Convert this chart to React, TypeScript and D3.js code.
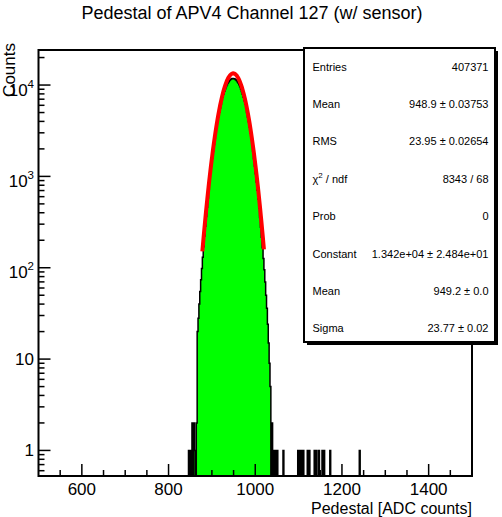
import React, { useEffect, useRef } from 'react';
import * as d3 from 'd3';

const title = 'Pedestal of APV4 Channel 127 (w/ sensor)';
const xTitle = 'Pedestal [ADC counts]';
const yTitle = 'Counts';

const binWidth = 2;
const xRange = [500, 1500];
const yRange = [0.525, 24190];

// bin contents, 2 ADC counts per bin, first bin starts at coreStart
const coreStart = 846;
const coreCounts = [
  1, 0, 1, 0, 2, 0, 2, 1, 0, 2,
  20, 28, 40, 55, 74, 98, 130, 170, 222, 285,
  365, 460, 580, 720, 890, 1090, 1320, 1590, 1900, 2240,
  2620, 3040, 3500, 3990, 4510, 5050, 5610, 6190, 6780, 7370,
  7960, 8540, 9090, 9610, 10090, 10520, 10900, 11220, 11470, 11650,
  11760, 11800, 11740, 11630, 11450, 11190, 10880, 10500, 10060, 9590,
  9070, 8510, 7930, 7340, 6750, 6160, 5580, 5020, 4480, 3960,
  3470, 3010, 2590, 2210, 1870, 1560, 1300, 1070, 870, 705,
  565, 450, 355, 278, 215, 165, 126, 95, 70, 50,
  36, 24, 15, 9, 5, 0, 2, 0, 1, 0,
  1, 0, 1,
];
// single entries far out in the tail (bin low edges)
const tailBins = [1064, 1098, 1102, 1106, 1110, 1120, 1124, 1136, 1140, 1146, 1154, 1158, 1172, 1240];

// gaussian fit
const fitConstant = 13420;
const fitMean = 949.2;
const fitSigma = 23.77;
const fitRange = [878, 1020];

const statLabels = ['Entries', 'Mean', 'RMS', 'χ2 / ndf', 'Prob', 'Constant', 'Mean', 'Sigma'];
const statValues = ['407371', '948.9 ± 0.03753', '23.95 ± 0.02654', '8343 / 68', '0', '1.342e+04 ± 2.484e+01', '949.2 ± 0.0', '23.77 ± 0.02'];

const xMajor = [600, 800, 1000, 1200, 1400];
const yMajor = [1, 10, 100, 1000, 10000];

const width = 502;
const height = 517;
const frameLeft = 38.5;
const frameRight = 472;
const frameTop = 50;
const frameBottom = 476;
const font = '"Liberation Sans", Arial, sans-serif';

function App() {
  const ref = useRef(null);

  useEffect(() => {
    const svg = d3.select(ref.current);
    svg.selectAll('*').remove();

    const x = d3.scaleLinear().domain(xRange).range([frameLeft, frameRight]);
    const y = d3.scaleLog().domain(yRange).range([frameBottom, frameTop]).clamp(true);

    // all bins of the histogram
    const nBins = (xRange[1] - xRange[0]) / binWidth;
    const counts = new Array(nBins).fill(0);
    coreCounts.forEach((c, i) => { counts[(coreStart - xRange[0]) / binWidth + i] = c; });
    tailBins.forEach(lo => { counts[(lo - xRange[0]) / binWidth] += 1; });
    const pts = counts.map((c, i) => [xRange[0] + i * binWidth, c]);
    pts.push([xRange[1], counts[nBins - 1]]);

    const yv = c => (c > 0 ? y(c) : frameBottom);

    svg.append('path')
      .attr('fill', '#00ff00')
      .attr('d', d3.area().curve(d3.curveStepAfter)
        .x(d => x(d[0])).y0(frameBottom).y1(d => yv(d[1]))(pts));

    svg.append('path')
      .attr('fill', 'none')
      .attr('stroke', 'black')
      .attr('stroke-width', 1.5)
      .attr('d', d3.line().curve(d3.curveStepAfter)
        .x(d => x(d[0])).y(d => yv(d[1]))(pts));

    // fit curve
    const fx = d3.range(fitRange[0], fitRange[1] + 0.01, (fitRange[1] - fitRange[0]) / 100);
    svg.append('path')
      .attr('fill', 'none')
      .attr('stroke', '#ff0000')
      .attr('stroke-width', 4)
      .attr('d', d3.line()
        .x(v => x(v))
        .y(v => y(fitConstant * Math.exp(-0.5 * ((v - fitMean) / fitSigma) ** 2)))(fx));

    // frame
    svg.append('rect')
      .attr('x', frameLeft).attr('y', frameTop)
      .attr('width', frameRight - frameLeft).attr('height', frameBottom - frameTop)
      .attr('fill', 'none').attr('stroke', 'black').attr('stroke-width', 2);

    // x ticks
    const xt = svg.append('g').attr('stroke', 'black').attr('stroke-width', 1.5);
    d3.range(550, 1500, 50).forEach(v => {
      const major = xMajor.includes(v);
      xt.append('line')
        .attr('x1', x(v)).attr('x2', x(v))
        .attr('y1', frameBottom).attr('y2', frameBottom - (major ? 12 : 6));
    });
    svg.append('g').selectAll('text').data(xMajor).join('text')
      .attr('x', d => x(d)).attr('y', 495)
      .attr('text-anchor', 'middle')
      .attr('font-family', font).attr('font-size', 17)
      .text(d => d);

    // y ticks
    const yMinor = [];
    for (let e = -1; e <= 4; e++) {
      for (let k = 2; k <= 9; k++) {
        const v = k * 10 ** e;
        if (v > yRange[0] && v < yRange[1]) yMinor.push(v);
      }
    }
    const yt = svg.append('g').attr('stroke', 'black').attr('stroke-width', 1.5);
    yMajor.concat(yMinor).forEach(v => {
      const major = yMajor.includes(v);
      yt.append('line')
        .attr('x1', frameLeft).attr('x2', frameLeft + (major ? 12 : 6))
        .attr('y1', y(v)).attr('y2', y(v));
    });
    yMajor.forEach(v => {
      const e = Math.round(Math.log10(v));
      const t = svg.append('text')
        .attr('font-family', font).attr('font-size', 17)
        .attr('text-anchor', 'end');
      if (e <= 1) {
        t.attr('x', 34).attr('y', y(v) + 6).text(String(v));
      } else {
        t.attr('x', 34).attr('y', y(v) + 10.5);
        t.append('tspan').text('10');
        t.append('tspan').attr('font-size', 11.5).attr('dy', -8).text(String(e));
      }
    });

    // titles
    svg.append('text')
      .attr('x', 252).attr('y', 18.5)
      .attr('text-anchor', 'middle')
      .attr('font-family', font).attr('font-size', 18)
      .text(title);
    svg.append('text')
      .attr('x', frameRight).attr('y', 514)
      .attr('text-anchor', 'end')
      .attr('font-family', font).attr('font-size', 16)
      .text(xTitle);
    svg.append('text')
      .attr('transform', 'translate(15,43) rotate(-90)')
      .attr('text-anchor', 'end')
      .attr('font-family', font).attr('font-size', 17)
      .text(yTitle);

    // stats box
    const bx = 304, by = 48, bw = 191, bh = 294;
    svg.append('rect')
      .attr('x', bx + 3).attr('y', by + 3).attr('width', bw).attr('height', bh)
      .attr('fill', 'black');
    svg.append('rect')
      .attr('x', bx).attr('y', by).attr('width', bw).attr('height', bh)
      .attr('fill', 'white').attr('stroke', 'black').attr('stroke-width', 2);
    const rowY = i => 66.7 + i * 37.37;
    statLabels.forEach((s, i) => {
      const t = svg.append('text')
        .attr('x', bx + 8.5).attr('y', rowY(i) + 4)
        .attr('font-family', font).attr('font-size', 11);
      if (s.startsWith('χ2')) {
        t.append('tspan').text('χ');
        t.append('tspan').attr('font-size', 8).attr('dy', -5).text('2');
        t.append('tspan').attr('dy', 5).text(' / ndf');
      } else {
        t.text(s);
      }
      svg.append('text')
        .attr('x', bx + bw - 6.5).attr('y', rowY(i) + 4)
        .attr('text-anchor', 'end')
        .attr('font-family', font).attr('font-size', 11)
        .text(statValues[i]);
    });
  }, []);

  return (
    <svg ref={ref} width={width} height={height} style={{ position: 'absolute', left: 0, top: 0, background: 'white' }} />
  );
}

export default App;
